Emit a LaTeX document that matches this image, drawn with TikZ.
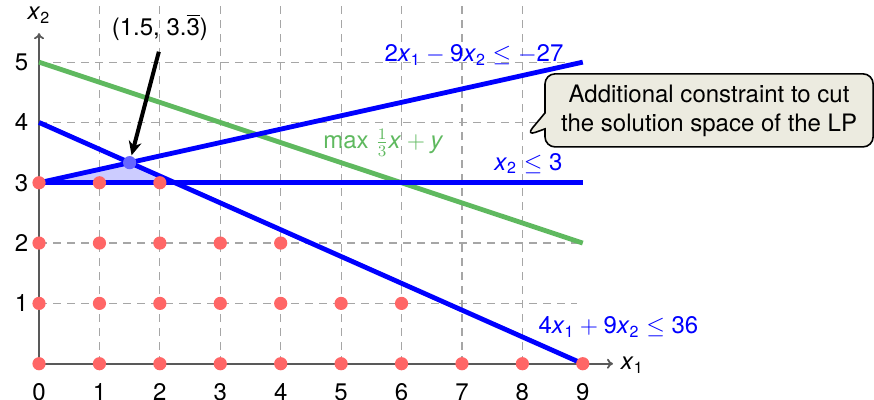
\documentclass[tikz,border=0pt]{standalone}
\usepackage{fontspec}
\setmainfont{TeX Gyre Heros}
\usetikzlibrary{arrows.meta,shapes.callouts}
\definecolor{dotred}{RGB}{255,102,102}
\definecolor{objgreen}{RGB}{95,185,95}
\definecolor{calloutfill}{RGB}{236,235,224}
\newcommand\vx[1]{\textit{x}\textsubscript{#1}}
\begin{document}
\begin{tikzpicture}[x=30.2pt,y=30.15pt,
  every node/.style={font=\fontsize{12}{14.5}\selectfont},
  gridline/.style={gray!70, line width=0.6pt, dash pattern=on 4pt off 3pt},
  axis/.style={line width=0.9pt, black!65, -{To[length=3pt,width=5pt]}},
  con/.style={blue, line width=2.4pt},
  obj/.style={objgreen, line width=2.4pt},
  intpt/.style={circle, fill=dotred, inner sep=0pt, minimum size=6.6pt},
  optpt/.style={circle, fill=blue!60, inner sep=0pt, minimum size=6.6pt},
  lbl/.style={blue, inner sep=1pt},
  tick/.style={inner sep=1pt},
]
\useasboundingbox (-0.646,-0.587) rectangle (13.82,6.03);
% grid
\foreach \i in {1,...,8} \draw[gridline] (\i,0) -- (\i,6.03);
\foreach \j in {1,...,5} \draw[gridline] (0,\j) -- (8.9,\j);
% axes
\coordinate (O) at (0,0);
\coordinate (xend) at (9.5,0);
\coordinate (yend) at (0,5.48);
\draw[axis] (O) -- (xend);
\draw[axis] (O) -- (yend);
\node (xl) at (9.82,-0.02) {\vx1};
\node (yl) at (0,5.78) {\vx2};
\foreach \i in {0,...,9} \node[tick] (xt\i) at (\i,-0.47) {\i};
\foreach \j in {1,...,5} \node[tick] (yt\j) at (-0.29,\j) {\j};
% feasible region
\coordinate (ta) at (0,3);
\coordinate (tb) at (1.5,3.3333);
\coordinate (tc) at (2.25,3);
\fill[blue!20] (ta) -- (tb) -- (tc) -- cycle;
% lines
\coordinate (ga) at (0,5);
\coordinate (gb) at (9,2);
\draw[obj] (ga) -- (gb);
\coordinate (c1a) at (0,3);
\coordinate (c1b) at (9,5);
\draw[con] (c1a) -- (c1b);
\coordinate (c2a) at (0,3);
\coordinate (c2b) at (9,3);
\draw[con] (c2a) -- (c2b);
\coordinate (c3a) at (0,4);
\coordinate (c3b) at (9,0);
\draw[con] (c3a) -- (c3b);
% integer points
\foreach \i in {0,...,9} \node[intpt] (p\i-0) at (\i,0) {};
\foreach \i in {0,...,6} \node[intpt] (p\i-1) at (\i,1) {};
\foreach \i in {0,...,4} \node[intpt] (p\i-2) at (\i,2) {};
\foreach \i in {0,...,2} \node[intpt] (p\i-3) at (\i,3) {};
\node[optpt] (opt) at (1.5,3.3333) {};
% labels
\node[lbl] (l1) at (7.2,5.12) {2\vx1${}-{}$9\vx2${}\leq-$27};
\node[text=objgreen, inner sep=1pt] (lo) at (5.70,3.66) {max $\frac{1}{3}$\textit{x}${}+{}$\textit{y}};
\node[lbl] (l2) at (8.1,3.32) {\vx2${}\leq{}$3};
\node[lbl] (l3) at (9.59,0.61) {4\vx1${}+{}$9\vx2${}\leq{}$36};
\node (optl) at (2.0,5.57) {(1.5, 3.$\overline{\hbox{3}}$)};
\draw[line width=2pt, -{Stealth[length=7pt,width=6.5pt]}, shorten <=2pt, shorten >=0.3pt] (optl.south) -- (opt);
% callout
\coordinate (tip) at (8.06,3.78);
\node[rectangle callout, draw=black, line width=0.8pt, fill=calloutfill, rounded corners=5pt,
  align=center, minimum width=164pt, minimum height=36.5pt, inner sep=2pt,
  callout absolute pointer={(tip)}, callout pointer width=8pt] (note) at (11.09,4.2)
  {Additional constraint to cut\\the solution space of the LP};
\end{tikzpicture}
\end{document}
